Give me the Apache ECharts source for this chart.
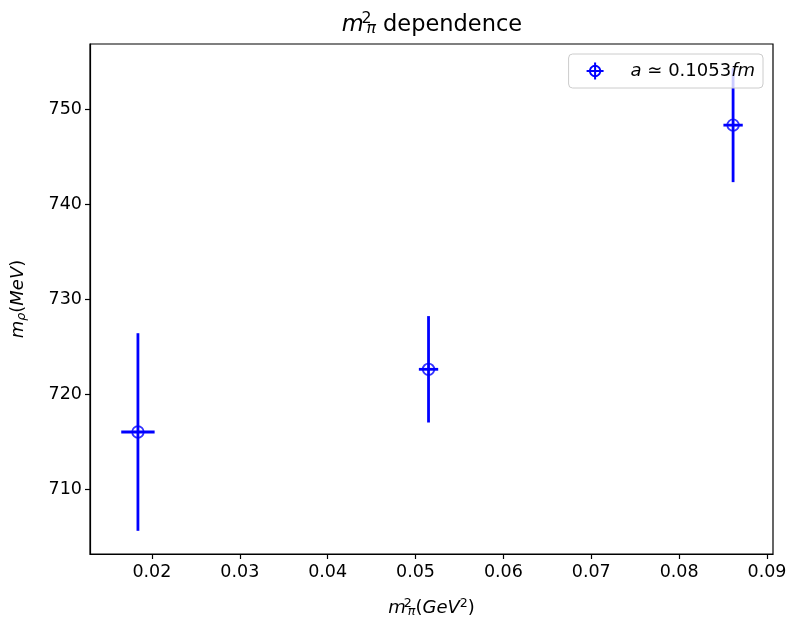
<!DOCTYPE html>
<html>
<head>
<meta charset="utf-8">
<script src="https://cdn.jsdelivr.net/npm/echarts@6/dist/echarts.min.js"></script>
<style>
html,body{margin:0;padding:0;background:#fff;}
#c{width:789px;height:617px;}
</style>
</head>
<body>
<div id="c"></div>
<script>
// Data
const mpi2 = [0.01841, 0.05148, 0.08614];      // m_pi^2 (GeV^2)
const mpi2Err = [0.0019, 0.0011, 0.0011];
const mrho = [716.0, 722.6, 748.3];            // m_rho (MeV)
const mrhoErr = [10.4, 5.6, 6.0];
const xTicks = [0.02, 0.03, 0.04, 0.05, 0.06, 0.07, 0.08, 0.09];
const yTicks = [710, 720, 730, 740, 750];
const legendLabel = 'a ≃ 0.1053fm';

const FONT = 'DejaVu Sans';
const BLUE = '#0000ff';

const points = mpi2.map((x, i) => [x, mrho[i], mpi2Err[i], mrhoErr[i]]);

const chart = echarts.init(document.getElementById('c'), null, {renderer: 'canvas'});

const mathRich = (size) => ({
  i: {fontFamily: FONT, fontStyle: 'italic', fontWeight: 'normal', fontSize: size, color: '#000'},
  n: {fontFamily: FONT, fontWeight: 'normal', fontSize: size, color: '#000'},
  ni: {fontFamily: FONT, fontStyle: 'italic', fontWeight: 'normal', fontSize: size, color: '#000'},
  sup: {fontFamily: FONT, fontWeight: 'normal', fontSize: size * 0.7, color: '#000', width: 0, align: 'left', padding: [0, 0, size * 0.55, size * 0.12]},
  sub: {fontFamily: FONT, fontStyle: 'italic', fontWeight: 'normal', fontSize: size * 0.7, color: '#000', align: 'left', padding: [size * 0.35, 0, 0, 0]},
  supn: {fontFamily: FONT, fontWeight: 'normal', fontSize: size * 0.7, color: '#000', padding: [0, 0, size * 0.55, 0]},
  subr: {fontFamily: FONT, fontStyle: 'italic', fontWeight: 'normal', fontSize: size * 0.7, color: '#000', padding: [size * 0.35, 0, 0, 0]}
});

// legend marker glyph: ring + cross built from polygons (icon geometry only)
function ringHalf(cx, cy, ro, ri, a0, a1, n) {
  const pts = [];
  for (let k = 0; k <= n; k++) { const a = a0 + (a1 - a0) * k / n; pts.push([cx + ro * Math.cos(a), cy + ro * Math.sin(a)]); }
  for (let k = n; k >= 0; k--) { const a = a0 + (a1 - a0) * k / n; pts.push([cx + ri * Math.cos(a), cy + ri * Math.sin(a)]); }
  return 'M' + pts.map(p => p[0].toFixed(2) + ',' + p[1].toFixed(2)).join(' L') + ' Z ';
}
const legendIcon = 'path://' + ringHalf(10, 10, 7.2, 5, Math.PI, 2 * Math.PI, 16) +
  ringHalf(10, 10, 7.2, 5, 0, Math.PI, 16) +
  'M8.8,0 L11.2,0 L11.2,20 L8.8,20 Z M0,8.8 L20,8.8 L20,11.2 L0,11.2 Z';

chart.setOption({
  animation: false,
  backgroundColor: '#fff',
  title: {
    text: '{i|m}{sup|2}{sub|π}{n| dependence}',
    left: 427, textAlign: 'center', top: 6,
    textStyle: {fontWeight: 'normal', rich: mathRich(22.5)}
  },
  legend: {
    data: [{name: legendLabel, icon: legendIcon, itemStyle: {color: BLUE, opacity: 1, borderWidth: 0, borderColor: 'transparent'}}],
    right: 26, top: 54,
    itemWidth: 17, itemHeight: 17, itemGap: 10,
    padding: [8, 8, 8, 18],
    backgroundColor: 'rgba(255,255,255,0.8)',
    borderColor: '#cccccc', borderWidth: 1, borderRadius: 4,
    formatter: () => '{i|a} {n|≃ 0.1053}{i|fm}',
    textStyle: {fontFamily: FONT, fontSize: 18, color: '#000', padding: [0, 0, 0, 22],
      rich: {
        i: {fontFamily: FONT, fontSize: 18, fontStyle: 'italic', color: '#000'},
        n: {fontFamily: FONT, fontSize: 18, color: '#000'}
      }}
  },
  grid: {
    left: 90, right: 16, top: 44, bottom: 63,
    outerBoundsMode: 'none', containLabel: false,
    show: true, borderColor: '#000', borderWidth: 1.2, backgroundColor: 'transparent'
  },
  xAxis: {
    type: 'value', min: 0.012955, max: 0.090682,
    name: '{i|m}{sup|2}{sub|π}{n|(}{ni|GeV}{supn|2}{n|)}',
    nameLocation: 'middle', nameGap: 43,
    nameTextStyle: {rich: mathRich(18)},
    splitLine: {show: false},
    axisLine: {show: true, onZero: false, lineStyle: {color: '#000', width: 1.2}},
    axisTick: {show: true, inside: false, length: 5, lineStyle: {color: '#000', width: 1.2}, customValues: xTicks},
    axisLabel: {fontFamily: FONT, fontSize: 17.5, color: '#000', margin: 9, customValues: xTicks,
      formatter: v => v.toFixed(2)}
  },
  yAxis: {
    type: 'value', min: 703.16, max: 756.84,
    name: '{i|m}{subr|ρ}{n|(}{ni|MeV}{n|)}',
    nameLocation: 'middle', nameGap: 62, nameRotate: 90,
    nameTextStyle: {rich: mathRich(18)},
    splitLine: {show: false},
    axisLine: {show: true, onZero: false, lineStyle: {color: '#000', width: 1.2}},
    axisTick: {show: true, inside: false, length: 5, lineStyle: {color: '#000', width: 1.2}, customValues: yTicks},
    axisLabel: {fontFamily: FONT, fontSize: 17.5, color: '#000', margin: 8, customValues: yTicks,
      formatter: v => String(v)}
  },
  series: [
    {
      name: 'errbars',
      type: 'custom',
      z: 2,
      data: points,
      renderItem: function (params, api) {
        const x = api.value(0), y = api.value(1), ex = api.value(2), ey = api.value(3);
        const p1 = api.coord([x, y - ey]), p2 = api.coord([x, y + ey]);
        const p3 = api.coord([x - ex, y]), p4 = api.coord([x + ex, y]);
        const style = {stroke: BLUE, lineWidth: 2.8};
        return {
          type: 'group',
          children: [
            {type: 'line', shape: {x1: p1[0], y1: p1[1], x2: p2[0], y2: p2[1]}, style: style},
            {type: 'line', shape: {x1: p3[0], y1: p3[1], x2: p4[0], y2: p4[1]}, style: style}
          ]
        };
      },
      silent: true
    },
    {
      name: legendLabel,
      type: 'scatter',
      z: 3,
      data: points.map(p => [p[0], p[1]]),
      symbol: 'circle',
      symbolSize: 11.5,
      itemStyle: {color: 'rgba(0,0,0,0)', borderColor: BLUE, borderWidth: 1.8}
    }
  ]
});
</script>
</body>
</html>
